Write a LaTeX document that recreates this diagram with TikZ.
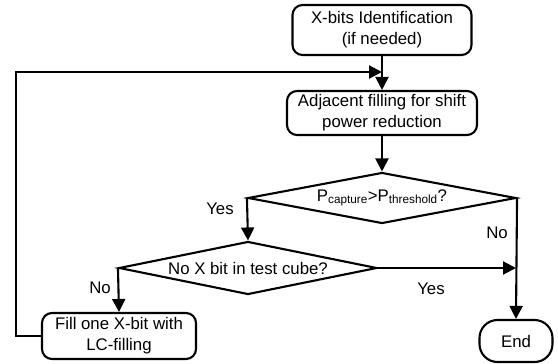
\documentclass[tikz,border=0pt]{standalone}
\usepackage{fontspec}
\setmainfont{Liberation Sans}
\usetikzlibrary{arrows.meta,shapes.geometric}
\tikzset{
  lw/.style={line width=2.1pt},
  procbox/.style={draw,lw,rounded corners=10pt,align=center,inner sep=0pt,font=\fontsize{16.8}{21}\selectfont},
  decbox/.style={draw,lw,diamond,inner sep=0pt,font=\fontsize{16.8}{21}\selectfont},
  termbox/.style={draw,lw,rounded corners=18pt,align=center,inner sep=0pt,font=\fontsize{16.8}{21}\selectfont},
  arr/.style={lw,-{Triangle[length=13pt,width=13pt]}},
  lbl/.style={font=\fontsize{16.8}{21}\selectfont,inner sep=0pt},
}
\begin{document}
\begin{tikzpicture}[x=1pt,y=-1pt]
\useasboundingbox (0,0) rectangle (558,364);
\node[procbox,minimum width=179pt,minimum height=50pt] (b1) at (382,30) {X-bits Identification\\(if needed)};
\node[procbox,minimum width=190pt,minimum height=44pt] (b2) at (382,113) {Adjacent filling for shift\\power reduction};
\node[decbox,minimum width=268pt,minimum height=51pt,aspect=5.2] (d1) at (382,198) {P\textsubscript{capture}>P\textsubscript{threshold}?};
\node[decbox,minimum width=258pt,minimum height=53pt,aspect=4.9] (d2) at (248,268) {No X bit in test cube?};
\node[procbox,minimum width=154pt,minimum height=46pt] (b4) at (119,336) {Fill one X-bit with\\LC-filling};
\node[termbox,minimum width=73pt,minimum height=42pt] (e) at (516,341) {End};
\coordinate (fb) at (382,72);
\draw[arr] (b1.south) -- (b2.north);
\draw[arr] (b2.south) -- (d1.north);
\draw[arr] (d1.west) -- (d2.north);
\draw[arr] (d1.east) -- (e.north);
\draw[arr] (d2.east) -- (d2.east -| e.north);
\draw[arr] (d2.west) -- (b4.north);
\draw[arr] (b4.west) -| (16,72) -- (fb);
\node[lbl] (y1) at (220,209) {Yes};
\node[lbl] (n1) at (497,233) {No};
\node[lbl] (y2) at (431,289) {Yes};
\node[lbl] (n2) at (100,288) {No};
\end{tikzpicture}
\end{document}
